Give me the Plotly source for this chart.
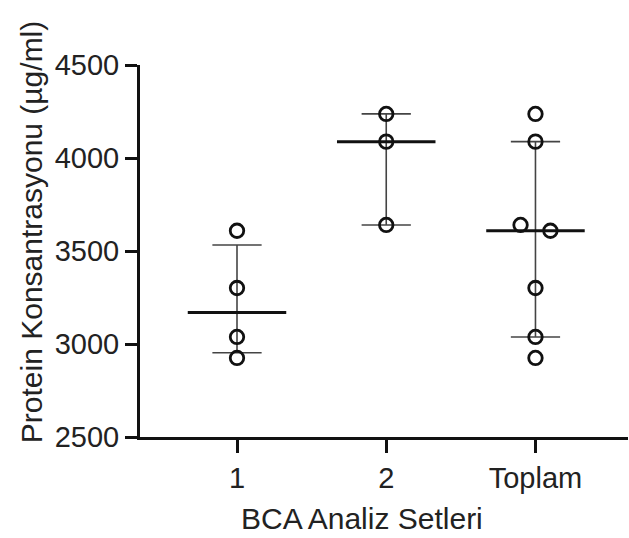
import numpy as np
import plotly.graph_objects as go

categories = ["1", "2", "Toplam"]
set1 = [3609, 3301, 3038, 2925]
set2 = [4237, 4088, 3640]
total = [4237, 4088, 3640, 3609, 3301, 3038, 2925]
# horizontal scatter offsets (category units) for overlapping points in "Toplam"
total_offsets = [0, 0, -0.1, 0.1, 0, 0, 0]
x_title = "BCA Analiz Setleri"
y_title = "Protein Konsantrasyonu (µg/ml)"

groups = [set1, set2, total]
offsets = [[0] * len(set1), [0] * len(set2), total_offsets]

FONT = "Liberation Sans, Arial, sans-serif"
TXT = "#222222"

fig = go.Figure()

med_x, med_y, wh_x, wh_y, cap_x, cap_y = [], [], [], [], [], []
for i, vals in enumerate(groups):
    v = np.array(vals, dtype=float)
    med = float(np.median(v))
    q1 = float(np.percentile(v, 25, method="weibull"))
    q3 = float(np.percentile(v, 75, method="weibull"))
    med_x += [i - 0.33, i + 0.33, None]
    med_y += [med, med, None]
    wh_x += [i, i, None]
    wh_y += [q1, q3, None]
    for q in (q1, q3):
        cap_x += [i - 0.165, i + 0.165, None]
        cap_y += [q, q, None]

fig.add_trace(go.Scatter(x=wh_x, y=wh_y, mode="lines",
                         line=dict(color="#444444", width=1.6), hoverinfo="skip"))
fig.add_trace(go.Scatter(x=cap_x, y=cap_y, mode="lines",
                         line=dict(color="#444444", width=1.6), hoverinfo="skip"))
fig.add_trace(go.Scatter(x=med_x, y=med_y, mode="lines",
                         line=dict(color="#111111", width=3), hoverinfo="skip"))

for i, (vals, offs) in enumerate(zip(groups, offsets)):
    fig.add_trace(go.Scatter(
        x=[i + o for o in offs], y=vals, mode="markers",
        marker=dict(symbol="circle-open", size=13.5, color="#111111",
                    line=dict(width=2.8, color="#111111")),
        name=categories[i]))

fig.update_layout(
    width=629, height=538,
    margin=dict(l=140, r=1, t=65, b=101),
    paper_bgcolor="white", plot_bgcolor="white",
    showlegend=False,
    font=dict(family=FONT, size=29, color=TXT),
)
fig.update_xaxes(
    range=[-0.65, 2.62], tickmode="array",
    tickvals=list(range(len(categories))), ticktext=categories,
    showgrid=False, zeroline=False,
    showline=True, linecolor="#111111", linewidth=3,
    ticks="outside", ticklen=13, tickwidth=3, tickcolor="#111111",
    tickfont=dict(size=29, color=TXT),
)
fig.update_yaxes(
    range=[2500, 4500], tickvals=[2500, 3000, 3500, 4000, 4500],
    showgrid=False, zeroline=False,
    showline=True, linecolor="#111111", linewidth=3,
    ticks="outside", ticklen=12, tickwidth=3, tickcolor="#111111",
    tickfont=dict(size=29, color=TXT),
)

# axis titles placed as annotations (offset from the plot centre as in the reference)
fig.add_annotation(text=x_title, xref="paper", yref="paper", x=0.455, y=-0.22,
                   xanchor="center", yanchor="middle", showarrow=False,
                   font=dict(size=30, color=TXT, family=FONT))
fig.add_annotation(text=y_title, xref="paper", yref="paper", x=-0.223, y=0.551,
                   xanchor="center", yanchor="middle", textangle=-90, showarrow=False,
                   font=dict(size=30, color=TXT, family=FONT))

fig.write_html("out.html")
